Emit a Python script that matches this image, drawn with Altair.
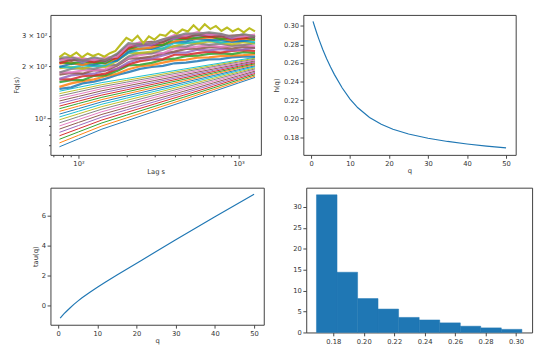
import altair as alt
import pandas as pd

TAB10 = ["#1f77b4", "#ff7f0e", "#2ca02c", "#d62728", "#9467bd",
         "#8c564b", "#e377c2", "#7f7f7f", "#bcbd22", "#17becf"]
FONT = "DejaVu Sans"

# ---------------- Fq(s) curves ----------------
lags_coarse = [76, 100, 140, 200, 300, 450, 700, 1000, 1266]
fq_smooth = [
    [68.4, 76.0, 86.5, 96.7, 109.8, 124.6, 143.1, 160.1, 172.3],
    [72.0, 79.7, 90.3, 100.5, 113.6, 128.3, 146.7, 163.4, 175.4],
    [75.6, 83.4, 94.0, 104.3, 117.3, 132.0, 150.2, 166.6, 178.5],
    [79.2, 87.0, 97.7, 108.1, 121.1, 135.7, 153.6, 169.9, 181.5],
    [82.9, 90.8, 101.6, 111.9, 124.8, 139.4, 157.1, 173.0, 184.5],
    [86.6, 94.6, 105.3, 115.6, 128.5, 142.9, 160.4, 176.1, 187.3],
    [90.3, 98.3, 109.1, 119.4, 132.3, 146.6, 163.8, 179.3, 190.3],
    [94.1, 102.2, 112.9, 123.2, 136.0, 150.0, 167.1, 182.3, 193.1],
    [98.0, 106.0, 116.8, 127.0, 139.7, 153.6, 170.4, 185.2, 195.8],
    [101.8, 109.8, 120.6, 130.8, 143.3, 157.1, 173.7, 188.2, 198.6],
    [105.7, 113.7, 124.5, 134.6, 147.0, 160.6, 176.8, 191.1, 201.3],
    [109.6, 117.6, 128.3, 138.4, 150.7, 164.1, 180.1, 194.2, 204.1],
    [113.6, 121.7, 132.2, 142.2, 154.4, 167.6, 183.2, 197.0, 206.7],
    [117.6, 125.6, 136.2, 146.1, 158.1, 171.0, 186.5, 200.0, 209.4],
    [121.8, 129.7, 140.2, 149.9, 161.7, 174.5, 189.6, 202.9, 212.1],
    [125.9, 133.8, 144.2, 153.8, 165.4, 178.0, 192.9, 205.7, 214.7],
    [130.2, 138.0, 148.3, 157.8, 169.3, 181.5, 196.1, 208.6, 217.4],
    [134.5, 142.3, 152.4, 161.8, 173.0, 185.1, 199.3, 211.6, 220.0],
    [138.8, 146.4, 156.4, 165.7, 176.8, 188.6, 202.4, 214.3, 222.6],
    [143.4, 151.0, 160.8, 169.8, 180.7, 192.2, 205.6, 217.1, 225.2],
]

lags_mid = [76, 90, 106, 125, 147, 174, 205, 242, 286, 337, 397, 469, 553,
            653, 771, 908, 1072, 1266]
fq_dense = [
    [148, 151, 159, 163, 169, 178, 185, 193, 198, 201, 208, 210, 214, 219, 220, 225, 227, 227],
    [152, 159, 164, 168, 175, 181, 192, 200, 203, 210, 216, 218, 224, 225, 229, 230, 232, 235],
    [162, 166, 166, 176, 177, 188, 202, 204, 209, 218, 221, 229, 230, 236, 237, 235, 241, 239],
    [168, 168, 175, 177, 181, 193, 205, 214, 219, 220, 233, 233, 238, 243, 240, 245, 248, 245],
    [169, 177, 180, 181, 189, 193, 211, 221, 221, 231, 240, 240, 249, 247, 251, 247, 250, 255],
    [179, 183, 181, 190, 189, 201, 221, 223, 227, 237, 243, 252, 253, 257, 257, 253, 259, 256],
    [184, 184, 189, 190, 192, 205, 223, 232, 237, 238, 254, 255, 260, 264, 259, 262, 265, 261],
    [184, 193, 195, 193, 201, 204, 228, 239, 237, 249, 261, 260, 271, 266, 270, 263, 265, 272],
    [195, 198, 193, 203, 198, 214, 239, 238, 243, 254, 261, 272, 272, 278, 275, 268, 276, 271],
    [199, 196, 202, 200, 202, 217, 239, 249, 254, 253, 273, 272, 278, 283, 274, 279, 281, 275],
    [198, 207, 206, 204, 211, 215, 243, 254, 252, 264, 278, 278, 289, 283, 285, 277, 280, 286],
    [208, 210, 203, 213, 207, 224, 254, 252, 256, 268, 278, 289, 289, 294, 290, 281, 290, 284],
    [212, 207, 213, 209, 209, 227, 251, 263, 267, 265, 289, 287, 293, 299, 287, 292, 295, 286],
    [208, 218, 216, 211, 219, 222, 255, 267, 263, 277, 293, 291, 305, 296, 299, 287, 290, 298],
    [219, 221, 211, 222, 213, 232, 266, 262, 266, 280, 289, 303, 301, 307, 302, 290, 301, 293],
    [221, 215, 221, 216, 215, 234, 261, 273, 277, 275, 300, 298, 304, 310, 297, 301, 304, 295],
    [215, 225, 222, 217, 224, 227, 263, 275, 271, 285, 303, 301, 315, 305, 307, 295, 298, 305],
    [224, 226, 215, 226, 217, 236, 272, 268, 272, 286, 296, 310, 308, 314, 308, 296, 307, 298],
]

lags_fine = [76, 82, 89, 97, 105, 114, 123, 133, 145, 157, 170, 184, 199, 216,
             234, 254, 275, 298, 323, 350, 379, 411, 445, 482, 523, 566, 614,
             665, 721, 781, 846, 917, 994, 1077, 1167, 1265]
fq_top = [226, 238, 228, 240, 225, 237, 229, 236, 227, 238, 245, 268, 292, 280,
          300, 272, 298, 285, 305, 300, 322, 308, 326, 318, 345, 322, 350, 328,
          342, 320, 335, 318, 330, 314, 332, 318]

# ---------------- h(q), tau(q) ----------------
q_vals = [0.5, 1, 1.5, 2, 3, 4, 5, 6, 8, 10, 12, 15, 18, 21, 25, 30, 35, 40, 45, 50]
h_vals = [0.3050, 0.2983, 0.2919, 0.2858, 0.2746, 0.2646, 0.2556, 0.2475, 0.2331, 0.2211,
          0.2117, 0.2012, 0.1940, 0.1886, 0.1834, 0.1789, 0.1754, 0.1727, 0.1704, 0.1684]
tau_vals = [-0.85, -0.70, -0.56, -0.43, -0.18, 0.06, 0.28, 0.49, 0.86, 1.21,
            1.54, 2.02, 2.49, 2.96, 3.59, 4.37, 5.14, 5.91, 6.67, 7.42]

# ---------------- histogram of h(q) ----------------
hist_edges = [0.1690, 0.1825, 0.1960, 0.2094, 0.2229, 0.2364, 0.2499, 0.2634,
              0.2768, 0.2903, 0.3038]
hist_density = [32.9, 14.4, 8.1, 5.6, 3.6, 3.0, 2.3, 1.5, 1.1, 0.75]

# ---------------- tables ----------------
rows = []
line_no = 0
for vals in fq_smooth:
    for s, f in zip(lags_coarse, vals):
        rows.append({"line": f"L{line_no:02d}", "s": s, "F": f, "w": 1.0, "o": 1.0})
    line_no += 1
for vals in fq_dense:
    for s, f in zip(lags_mid, vals):
        rows.append({"line": f"L{line_no:02d}", "s": s, "F": f, "w": 2.3, "o": 0.85})
    line_no += 1
for s, f in zip(lags_fine, fq_top):
    rows.append({"line": f"L{line_no:02d}", "s": s, "F": f, "w": 2.2, "o": 1.0})
line_no += 1
df_fq = pd.DataFrame(rows)
names = [f"L{i:02d}" for i in range(line_no)]
colors = [TAB10[i % 10] for i in range(line_no)]

df_h = pd.DataFrame({"q": q_vals, "h": h_vals, "tau": tau_vals})
df_hist = pd.DataFrame({"lo": hist_edges[:-1], "hi": hist_edges[1:], "d": hist_density})

BLUE = "#1f77b4"

# ---------------- panels ----------------
x_major = "datum.value == 100 || datum.value == 1000"
fq_chart = alt.Chart(df_fq).mark_line(clip=True).encode(
    x=alt.X("s:Q", title="Lag s",
            scale=alt.Scale(type="log", domain=[66.8, 1377], nice=False),
            axis=alt.Axis(values=[70, 80, 90, 100, 200, 300, 400, 500, 600, 700, 800, 900, 1000],
                          labelExpr="datum.value == 100 ? '10²' : (datum.value == 1000 ? '10³' : '')",
                          tickSize={"condition": {"test": x_major, "value": 3.5}, "value": 2},
                          labelOverlap=False, titlePadding=1)),
    y=alt.Y("F:Q", title="Fq(s)",
            scale=alt.Scale(type="log", domain=[61.4, 396], nice=False),
            axis=alt.Axis(values=[70, 80, 90, 100, 200, 300],
                          labelExpr="datum.value == 100 ? '10²' : (datum.value == 200 ? '2 × 10²' : (datum.value == 300 ? '3 × 10²' : ''))",
                          tickSize={"condition": {"test": "datum.value == 100", "value": 3.5}, "value": 2},
                          labelOverlap=False, titlePadding=2)),
    color=alt.Color("line:N", scale=alt.Scale(domain=names, range=colors), legend=None),
    strokeWidth=alt.StrokeWidth("w:Q", scale=None),
    strokeOpacity=alt.StrokeOpacity("o:Q", scale=None),
).properties(width=218, height=145)

h_chart = alt.Chart(df_h).mark_line(color=BLUE, strokeWidth=1.2).encode(
    x=alt.X("q:Q", title="q", scale=alt.Scale(domain=[-1.975, 52.475], nice=False),
            axis=alt.Axis(values=[0, 10, 20, 30, 40, 50], titlePadding=0)),
    y=alt.Y("h:Q", title="h(q)", scale=alt.Scale(domain=[0.1609, 0.3119], nice=False, zero=False),
            axis=alt.Axis(values=[0.18, 0.20, 0.22, 0.24, 0.26, 0.28, 0.30], format=".2f",
                          titlePadding=4)),
).properties(width=220, height=145)

tau_chart = alt.Chart(df_h).mark_line(color=BLUE, strokeWidth=1.2).encode(
    x=alt.X("q:Q", title="q", scale=alt.Scale(domain=[-1.975, 52.475], nice=False),
            axis=alt.Axis(values=[0, 10, 20, 30, 40, 50], titlePadding=0)),
    y=alt.Y("tau:Q", title="tau(q)", scale=alt.Scale(domain=[-1.3, 7.85], nice=False, zero=False),
            axis=alt.Axis(values=[0, 2, 4, 6], titlePadding=3)),
).properties(width=221, height=142)

hist_chart = alt.Chart(df_hist).mark_rect(color=BLUE, stroke=BLUE, strokeWidth=0.5).encode(
    x=alt.X("lo:Q", title=None, scale=alt.Scale(domain=[0.1623, 0.3105], nice=False, zero=False),
            axis=alt.Axis(values=[0.18, 0.20, 0.22, 0.24, 0.26, 0.28, 0.30], format=".2f")),
    x2="hi:Q",
    y=alt.Y("d:Q", title=None, scale=alt.Scale(domain=[0, 34.6], nice=False),
            axis=alt.Axis(values=[0, 5, 10, 15, 20, 25, 30])),
    y2=alt.datum(0),
).properties(width=234, height=150)

PAD = {"left": 4, "top": 0, "right": 2, "bottom": 0}
top = alt.hconcat(fq_chart, h_chart, spacing=10)
bottom = alt.hconcat(tau_chart, hist_chart, spacing=28)
chart = alt.vconcat(top, bottom, spacing=12, padding=PAD).configure_view(
    stroke="#3c3c3c", strokeWidth=1
).configure_axis(
    grid=False, domain=False, labelFont=FONT, titleFont=FONT, labelFontSize=7,
    titleFontSize=7, titleFontWeight="normal", labelColor="#333", titleColor="#333",
    tickColor="#444", tickSize=3.5, labelPadding=1.5
)

chart.save("out.html", embed_options={"renderer": "svg", "actions": False})
